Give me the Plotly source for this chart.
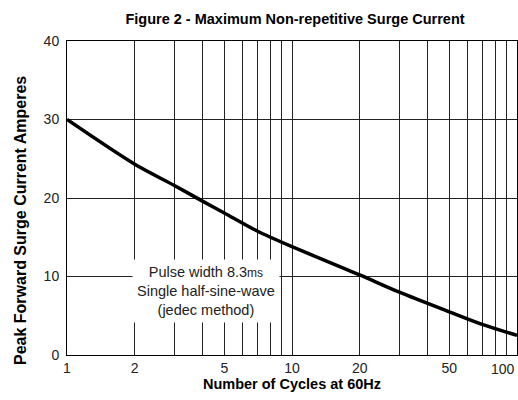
import plotly.graph_objects as go
import math

# Data
cycles = [1, 2, 3, 4, 5, 7, 10, 20, 30, 50, 70, 100]
surge_amps = [30, 24.3, 21.6, 19.6, 18.1, 15.8, 13.8, 10.2, 8.0, 5.5, 3.9, 2.5]

x_grid_vals = [1, 2, 3, 4, 5, 6, 7, 8, 9, 10, 20, 30, 40, 50, 60, 70, 80, 90, 100]
x_tick_labels = {1: "1", 2: "2", 5: "5", 10: "10", 20: "20", 50: "50"}
y_ticks = [0, 10, 20, 30, 40]

title_text = "Figure 2 - Maximum Non-repetitive Surge Current"
x_title = "Number of Cycles at 60Hz"
y_title = "Peak Forward Surge Current Amperes"
note_lines = ["Pulse width 8.3<span style='font-size:12px'>ms</span>",
              "Single half-sine-wave", "(jedec method)"]

FONT = "Liberation Sans, Arial, sans-serif"
GRID = "#222222"
TICKC = "#222222"

fig = go.Figure()
fig.add_trace(go.Scatter(
    x=cycles, y=surge_amps, mode="lines",
    line=dict(color="black", width=3.5, shape="spline", smoothing=0.8),
    hoverinfo="skip", showlegend=False))

fig.update_layout(
    width=518, height=400,
    margin=dict(l=67, r=1, t=41, b=45),
    paper_bgcolor="white", plot_bgcolor="white",
    font=dict(family=FONT, color=TICKC, size=14),
    title=dict(text=title_text, x=295 / 518, xanchor="center", y=1 - 19 / 400, yanchor="middle",
               font=dict(family=FONT, size=14.5, color="black", weight="bold")),
    showlegend=False,
)

fig.update_xaxes(
    type="log", range=[0, 2],
    tickmode="array", tickvals=x_grid_vals,
    ticktext=[x_tick_labels.get(v, "") for v in x_grid_vals],
    showgrid=True, gridcolor=GRID, gridwidth=1,
    showline=True, linecolor="black", linewidth=1, mirror=True,
    ticks="", tickfont=dict(size=14, color=TICKC),
    title=dict(text=x_title, font=dict(size=14.5, color="black", weight="bold"), standoff=4),
)
fig.update_yaxes(
    range=[0, 40], tickmode="array", tickvals=y_ticks,
    showgrid=True, gridcolor=GRID, gridwidth=1, zeroline=False,
    showline=True, linecolor="black", linewidth=1, mirror=True,
    ticks="", ticklabelstandoff=4, tickfont=dict(size=14, color=TICKC),
)

# right-aligned "100" label at the right edge
fig.add_annotation(x=math.log10(100), y=0, xref="x", yref="y", text="100",
                   showarrow=False, xanchor="right", yanchor="top", yshift=-4,
                   font=dict(size=14, color=TICKC))

# y-axis title
fig.add_annotation(x=(20 - 67) / (518 - 67 - 1), xref="paper",
                   y=(355 - 221) / (355 - 41), yref="paper", text=y_title,
                   textangle=-90, showarrow=False, xanchor="center", yanchor="middle",
                   font=dict(size=16, color="black", weight="bold"))

# note box
fig.add_annotation(x=math.log10(4.15), y=8.2, xref="x", yref="y",
                   text="<br>".join(note_lines), showarrow=False,
                   bgcolor="white", borderpad=4, align="center",
                   font=dict(size=14.5, color=TICKC))

fig.write_html("out.html", config={"displayModeBar": False},
               post_script="document.body.style.margin='0';")
